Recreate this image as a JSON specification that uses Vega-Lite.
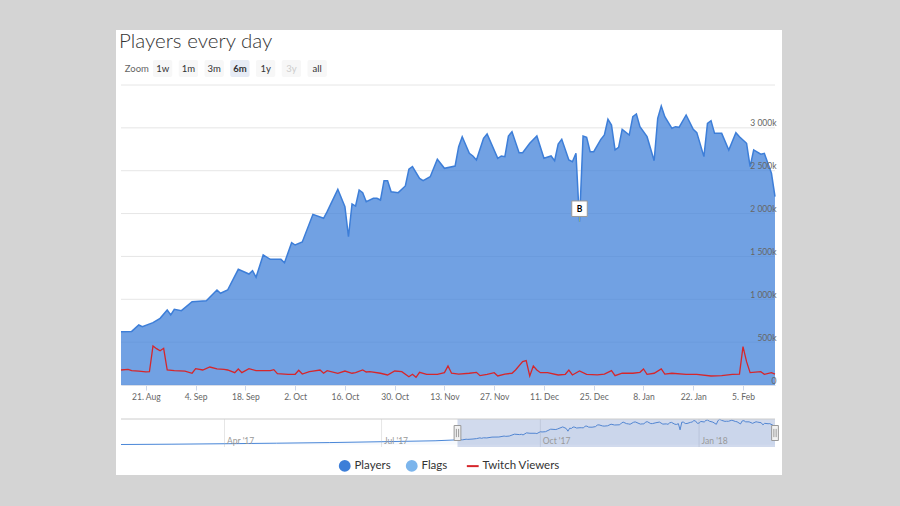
{
  "$schema": "https://vega.github.io/schema/vega-lite/v6.json",
  "width": 666,
  "height": 445,
  "autosize": {"type": "none"},
  "padding": {"left": 116, "top": 30, "right": 118, "bottom": 31},
  "background": "#d4d4d4",
  "title": {
    "text": "Players every day",
    "anchor": "start",
    "offset": -22,
    "dx": 3,
    "font": "Lato",
    "fontSize": 20.5,
    "fontWeight": 300,
    "color": "#333333"
  },
  "datasets": {
    "buttons": [
      {"label": "Zoom", "state": "label"},
      {"label": "1w", "state": "normal"},
      {"label": "1m", "state": "normal"},
      {"label": "3m", "state": "normal"},
      {"label": "6m", "state": "selected"},
      {"label": "1y", "state": "normal"},
      {"label": "3y", "state": "disabled"},
      {"label": "all", "state": "normal"}
    ],
    "players": [
      {"date": "2017-01-31", "value": 20000},
      {"date": "2017-03-01", "value": 60000},
      {"date": "2017-04-01", "value": 120000},
      {"date": "2017-05-01", "value": 190000},
      {"date": "2017-06-01", "value": 270000},
      {"date": "2017-07-01", "value": 380000},
      {"date": "2017-08-01", "value": 500000},
      {"date": "2017-08-14", "value": 620000},
      {"date": "2017-08-17", "value": 625000},
      {"date": "2017-08-19", "value": 700000},
      {"date": "2017-08-20", "value": 680000},
      {"date": "2017-08-23", "value": 727000},
      {"date": "2017-08-25", "value": 778000},
      {"date": "2017-08-27", "value": 875000},
      {"date": "2017-08-28", "value": 817000},
      {"date": "2017-08-29", "value": 883000},
      {"date": "2017-08-31", "value": 867000},
      {"date": "2017-09-03", "value": 972000},
      {"date": "2017-09-07", "value": 984000},
      {"date": "2017-09-10", "value": 1108000},
      {"date": "2017-09-11", "value": 1070000},
      {"date": "2017-09-13", "value": 1108000},
      {"date": "2017-09-16", "value": 1350000},
      {"date": "2017-09-19", "value": 1295000},
      {"date": "2017-09-20", "value": 1334000},
      {"date": "2017-09-21", "value": 1256000},
      {"date": "2017-09-23", "value": 1517000},
      {"date": "2017-09-25", "value": 1466000},
      {"date": "2017-09-28", "value": 1466000},
      {"date": "2017-09-29", "value": 1427000},
      {"date": "2017-10-01", "value": 1660000},
      {"date": "2017-10-02", "value": 1633000},
      {"date": "2017-10-04", "value": 1668000},
      {"date": "2017-10-07", "value": 1991000},
      {"date": "2017-10-10", "value": 1945000},
      {"date": "2017-10-11", "value": 2022000},
      {"date": "2017-10-14", "value": 2283000},
      {"date": "2017-10-16", "value": 2080000},
      {"date": "2017-10-17", "value": 1730000},
      {"date": "2017-10-18", "value": 2112000},
      {"date": "2017-10-19", "value": 2088000},
      {"date": "2017-10-20", "value": 2275000},
      {"date": "2017-10-21", "value": 2244000},
      {"date": "2017-10-22", "value": 2139000},
      {"date": "2017-10-24", "value": 2178000},
      {"date": "2017-10-25", "value": 2178000},
      {"date": "2017-10-26", "value": 2158000},
      {"date": "2017-10-27", "value": 2384000},
      {"date": "2017-10-28", "value": 2384000},
      {"date": "2017-10-29", "value": 2255000},
      {"date": "2017-10-31", "value": 2244000},
      {"date": "2017-11-02", "value": 2322000},
      {"date": "2017-11-03", "value": 2517000},
      {"date": "2017-11-04", "value": 2547000},
      {"date": "2017-11-06", "value": 2411000},
      {"date": "2017-11-07", "value": 2384000},
      {"date": "2017-11-09", "value": 2430000},
      {"date": "2017-11-11", "value": 2633000},
      {"date": "2017-11-13", "value": 2528000},
      {"date": "2017-11-16", "value": 2555000},
      {"date": "2017-11-17", "value": 2780000},
      {"date": "2017-11-18", "value": 2897000},
      {"date": "2017-11-20", "value": 2703000},
      {"date": "2017-11-21", "value": 2672000},
      {"date": "2017-11-22", "value": 2625000},
      {"date": "2017-11-24", "value": 2878000},
      {"date": "2017-11-25", "value": 2928000},
      {"date": "2017-11-28", "value": 2645000},
      {"date": "2017-11-29", "value": 2672000},
      {"date": "2017-11-30", "value": 2664000},
      {"date": "2017-12-01", "value": 2905000},
      {"date": "2017-12-02", "value": 2955000},
      {"date": "2017-12-04", "value": 2710000},
      {"date": "2017-12-05", "value": 2710000},
      {"date": "2017-12-07", "value": 2820000},
      {"date": "2017-12-09", "value": 2905000},
      {"date": "2017-12-11", "value": 2645000},
      {"date": "2017-12-13", "value": 2672000},
      {"date": "2017-12-14", "value": 2617000},
      {"date": "2017-12-15", "value": 2812000},
      {"date": "2017-12-16", "value": 2866000},
      {"date": "2017-12-18", "value": 2625000},
      {"date": "2017-12-19", "value": 2605000},
      {"date": "2017-12-20", "value": 2703000},
      {"date": "2017-12-21", "value": 1905000},
      {"date": "2017-12-22", "value": 2905000},
      {"date": "2017-12-23", "value": 2890000},
      {"date": "2017-12-24", "value": 2722000},
      {"date": "2017-12-25", "value": 2722000},
      {"date": "2017-12-27", "value": 2866000},
      {"date": "2017-12-28", "value": 2917000},
      {"date": "2017-12-29", "value": 3100000},
      {"date": "2017-12-30", "value": 3033000},
      {"date": "2017-12-31", "value": 2742000},
      {"date": "2018-01-01", "value": 2773000},
      {"date": "2018-01-02", "value": 2983000},
      {"date": "2018-01-04", "value": 2917000},
      {"date": "2018-01-05", "value": 3130000},
      {"date": "2018-01-06", "value": 3162000},
      {"date": "2018-01-07", "value": 3014000},
      {"date": "2018-01-09", "value": 2897000},
      {"date": "2018-01-11", "value": 2617000},
      {"date": "2018-01-12", "value": 3111000},
      {"date": "2018-01-13", "value": 3255000},
      {"date": "2018-01-14", "value": 3130000},
      {"date": "2018-01-16", "value": 2995000},
      {"date": "2018-01-17", "value": 3014000},
      {"date": "2018-01-18", "value": 3006000},
      {"date": "2018-01-20", "value": 3150000},
      {"date": "2018-01-22", "value": 2983000},
      {"date": "2018-01-23", "value": 2944000},
      {"date": "2018-01-25", "value": 2664000},
      {"date": "2018-01-26", "value": 3053000},
      {"date": "2018-01-27", "value": 3084000},
      {"date": "2018-01-28", "value": 2936000},
      {"date": "2018-01-30", "value": 2936000},
      {"date": "2018-02-01", "value": 2742000},
      {"date": "2018-02-03", "value": 2944000},
      {"date": "2018-02-04", "value": 2897000},
      {"date": "2018-02-06", "value": 2820000},
      {"date": "2018-02-07", "value": 2547000},
      {"date": "2018-02-08", "value": 2742000},
      {"date": "2018-02-10", "value": 2692000},
      {"date": "2018-02-11", "value": 2703000},
      {"date": "2018-02-13", "value": 2470000},
      {"date": "2018-02-14", "value": 2197000}
    ],
    "twitch": [
      {"date": "2017-08-14", "value": 175000},
      {"date": "2017-08-16", "value": 183000},
      {"date": "2017-08-17", "value": 167000},
      {"date": "2017-08-19", "value": 163000},
      {"date": "2017-08-21", "value": 152000},
      {"date": "2017-08-22", "value": 155000},
      {"date": "2017-08-23", "value": 455000},
      {"date": "2017-08-24", "value": 424000},
      {"date": "2017-08-25", "value": 400000},
      {"date": "2017-08-26", "value": 428000},
      {"date": "2017-08-27", "value": 175000},
      {"date": "2017-08-29", "value": 167000},
      {"date": "2017-09-01", "value": 163000},
      {"date": "2017-09-03", "value": 137000},
      {"date": "2017-09-04", "value": 190000},
      {"date": "2017-09-06", "value": 175000},
      {"date": "2017-09-08", "value": 210000},
      {"date": "2017-09-10", "value": 187000},
      {"date": "2017-09-12", "value": 183000},
      {"date": "2017-09-13", "value": 175000},
      {"date": "2017-09-15", "value": 144000},
      {"date": "2017-09-16", "value": 187000},
      {"date": "2017-09-17", "value": 144000},
      {"date": "2017-09-19", "value": 190000},
      {"date": "2017-09-21", "value": 167000},
      {"date": "2017-09-25", "value": 167000},
      {"date": "2017-09-26", "value": 179000},
      {"date": "2017-09-27", "value": 132000},
      {"date": "2017-09-30", "value": 125000},
      {"date": "2017-10-02", "value": 125000},
      {"date": "2017-10-03", "value": 172000},
      {"date": "2017-10-04", "value": 128000},
      {"date": "2017-10-06", "value": 155000},
      {"date": "2017-10-07", "value": 163000},
      {"date": "2017-10-09", "value": 175000},
      {"date": "2017-10-10", "value": 137000},
      {"date": "2017-10-11", "value": 167000},
      {"date": "2017-10-14", "value": 137000},
      {"date": "2017-10-16", "value": 163000},
      {"date": "2017-10-18", "value": 137000},
      {"date": "2017-10-19", "value": 144000},
      {"date": "2017-10-21", "value": 175000},
      {"date": "2017-10-22", "value": 152000},
      {"date": "2017-10-23", "value": 155000},
      {"date": "2017-10-26", "value": 137000},
      {"date": "2017-10-28", "value": 117000},
      {"date": "2017-10-30", "value": 163000},
      {"date": "2017-11-01", "value": 155000},
      {"date": "2017-11-03", "value": 97000},
      {"date": "2017-11-04", "value": 125000},
      {"date": "2017-11-05", "value": 90000},
      {"date": "2017-11-06", "value": 148000},
      {"date": "2017-11-08", "value": 125000},
      {"date": "2017-11-11", "value": 125000},
      {"date": "2017-11-13", "value": 144000},
      {"date": "2017-11-14", "value": 222000},
      {"date": "2017-11-15", "value": 137000},
      {"date": "2017-11-17", "value": 128000},
      {"date": "2017-11-20", "value": 137000},
      {"date": "2017-11-22", "value": 148000},
      {"date": "2017-11-23", "value": 109000},
      {"date": "2017-11-25", "value": 125000},
      {"date": "2017-11-27", "value": 144000},
      {"date": "2017-11-28", "value": 105000},
      {"date": "2017-11-30", "value": 128000},
      {"date": "2017-12-02", "value": 137000},
      {"date": "2017-12-03", "value": 175000},
      {"date": "2017-12-05", "value": 272000},
      {"date": "2017-12-06", "value": 284000},
      {"date": "2017-12-07", "value": 105000},
      {"date": "2017-12-08", "value": 222000},
      {"date": "2017-12-09", "value": 175000},
      {"date": "2017-12-10", "value": 144000},
      {"date": "2017-12-12", "value": 144000},
      {"date": "2017-12-15", "value": 117000},
      {"date": "2017-12-17", "value": 125000},
      {"date": "2017-12-18", "value": 175000},
      {"date": "2017-12-19", "value": 117000},
      {"date": "2017-12-21", "value": 163000},
      {"date": "2017-12-23", "value": 125000},
      {"date": "2017-12-26", "value": 117000},
      {"date": "2017-12-28", "value": 128000},
      {"date": "2017-12-30", "value": 167000},
      {"date": "2017-12-31", "value": 109000},
      {"date": "2018-01-02", "value": 137000},
      {"date": "2018-01-05", "value": 137000},
      {"date": "2018-01-07", "value": 148000},
      {"date": "2018-01-08", "value": 187000},
      {"date": "2018-01-09", "value": 125000},
      {"date": "2018-01-11", "value": 137000},
      {"date": "2018-01-13", "value": 187000},
      {"date": "2018-01-14", "value": 128000},
      {"date": "2018-01-16", "value": 137000},
      {"date": "2018-01-20", "value": 125000},
      {"date": "2018-01-23", "value": 125000},
      {"date": "2018-01-27", "value": 105000},
      {"date": "2018-01-30", "value": 109000},
      {"date": "2018-02-02", "value": 125000},
      {"date": "2018-02-04", "value": 128000},
      {"date": "2018-02-05", "value": 447000},
      {"date": "2018-02-06", "value": 272000},
      {"date": "2018-02-07", "value": 144000},
      {"date": "2018-02-10", "value": 155000},
      {"date": "2018-02-11", "value": 125000},
      {"date": "2018-02-13", "value": 144000},
      {"date": "2018-02-14", "value": 128000}
    ],
    "flags": [{"date": "2017-12-21", "value": 1905000, "title": "B"}]
  },
  "layer": [
    {
      "data": {"name": "buttons"},
      "encoding": {
        "x": {
          "field": "label",
          "type": "nominal",
          "sort": null,
          "axis": null,
          "scale": {
            "domain": ["Zoom", "1w", "1m", "3m", "6m", "1y", "3y", "all"],
            "range": [8, 214],
            "paddingInner": 0.25,
            "paddingOuter": 0.125
          }
        },
        "y": {
          "datum": "buttons",
          "type": "nominal",
          "axis": null,
          "scale": {"domain": ["buttons"], "range": [30, 47], "paddingInner": 0, "paddingOuter": 0}
        }
      },
      "layer": [
        {
          "transform": [{"filter": "datum.state !== 'label'"}],
          "mark": {"type": "rect", "cornerRadius": 2},
          "encoding": {
            "color": {"condition": {"test": "datum.state === 'selected'", "value": "#e6ebf5"}, "value": "#f7f7f7"}
          }
        },
        {
          "transform": [{"filter": "datum.state !== 'selected'"}],
          "mark": {"type": "text", "font": "Lato", "fontSize": 9.5},
          "encoding": {
            "text": {"field": "label"},
            "color": {
              "condition": [
                {"test": "datum.state === 'disabled'", "value": "#cccccc"},
                {"test": "datum.state === 'label'", "value": "#666666"}
              ],
              "value": "#333333"
            }
          }
        },
        {
          "transform": [{"filter": "datum.state === 'selected'"}],
          "mark": {"type": "text", "font": "Lato", "fontSize": 9.5, "fontWeight": "bold", "color": "#333333"},
          "encoding": {"text": {"field": "label"}}
        }
      ]
    },
    {
      "data": {"name": "players"},
      "encoding": {
        "y": {
          "field": "value",
          "type": "quantitative",
          "scale": {"domain": [0, 3500000], "range": [355, 55], "nice": false, "zero": false},
          "axis": {
            "orient": "right",
            "offset": -6,
            "title": null,
            "grid": false,
            "ticks": false,
            "domain": false,
            "values": [0, 500000, 1000000, 1500000, 2000000, 2500000, 3000000],
            "labelExpr": "datum.value === 0 ? '0' : replace(format(datum.value / 1000, ','), ',', ' ') + 'k'",
            "labelAlign": "right",
            "labelBaseline": "bottom",
            "labelPadding": 0,
            "labelOffset": 0,
            "labelFlush": false,
            "labelOverlap": false,
            "labelFont": "Lato",
            "labelFontSize": 8.5,
            "labelColor": "#666666",
            "zindex": 1
          }
        }
      },
      "layer": [
        {
          "data": {"values": [
            {"value": 0}, {"value": 500000}, {"value": 1000000}, {"value": 1500000},
            {"value": 2000000}, {"value": 2500000}, {"value": 3000000}, {"value": 3500000}
          ]},
          "mark": {"type": "rule", "color": "#e6e6e6", "strokeWidth": 1},
          "encoding": {
            "x": {
              "datum": {"year": 2017, "month": 8, "date": 14, "utc": true},
              "type": "temporal",
              "scale": {
                "type": "utc",
                "domain": [
                  {"year": 2017, "month": 8, "date": 14, "utc": true},
                  {"year": 2018, "month": 2, "date": 14, "utc": true}
                ],
                "range": [5, 659],
                "nice": false
              }
            },
            "x2": {"datum": {"year": 2018, "month": 2, "date": 14, "utc": true}}
          }
        },
        {
          "transform": [{"filter": "datum.date >= utc(2017, 7, 14)"}],
          "mark": {"type": "area", "fillOpacity": 0.73, "line": {"color": "#3d7ed8", "strokeWidth": 1.5}},
          "encoding": {
            "x": {
              "field": "date",
              "type": "temporal",
              "scale": {
                "type": "utc",
                "domain": [
                  {"year": 2017, "month": 8, "date": 14, "utc": true},
                  {"year": 2018, "month": 2, "date": 14, "utc": true}
                ],
                "range": [5, 659],
                "nice": false
              },
              "axis": {
                "orient": "bottom",
                "offset": -90,
                "title": null,
                "grid": false,
                "values": [
                  {"year": 2017, "month": 8, "date": 21, "utc": true},
                  {"year": 2017, "month": 9, "date": 4, "utc": true},
                  {"year": 2017, "month": 9, "date": 18, "utc": true},
                  {"year": 2017, "month": 10, "date": 2, "utc": true},
                  {"year": 2017, "month": 10, "date": 16, "utc": true},
                  {"year": 2017, "month": 10, "date": 30, "utc": true},
                  {"year": 2017, "month": 11, "date": 13, "utc": true},
                  {"year": 2017, "month": 11, "date": 27, "utc": true},
                  {"year": 2017, "month": 12, "date": 11, "utc": true},
                  {"year": 2017, "month": 12, "date": 25, "utc": true},
                  {"year": 2018, "month": 1, "date": 8, "utc": true},
                  {"year": 2018, "month": 1, "date": 22, "utc": true},
                  {"year": 2018, "month": 2, "date": 5, "utc": true}
                ],
                "format": "%-d. %b",
                "labelFont": "Lato",
                "labelFontSize": 8.5,
                "labelColor": "#666666",
                "labelPadding": 2,
                "labelFlush": false,
                "labelOverlap": false,
                "domainColor": "#ccd6eb",
                "tickColor": "#ccd6eb",
                "tickSize": 5
              }
            },
            "color": {
              "datum": "Players",
              "type": "nominal",
              "scale": {
                "domain": ["Players", "Flags", "Twitch Viewers"],
                "range": ["#3d7ed8", "#7cb5ec", "#d6262b"]
              },
              "legend": {
                "title": null,
                "orient": "bottom",
                "offset": -15,
                "direction": "horizontal",
                "labelFont": "Lato",
                "labelFontSize": 11.5,
                "labelColor": "#333333",
                "symbolSize": 140,
                "symbolType": "circle",
                "labelOffset": 4,
                "columnPadding": 14,
                "encode": {
                  "symbols": {
                    "update": {
                      "shape": {"signal": "datum.value === 'Twitch Viewers' ? 'stroke' : 'circle'"},
                      "stroke": {"scale": "color", "field": "value"},
                      "strokeWidth": {"signal": "datum.value === 'Twitch Viewers' ? 2 : 0"},
                      "fillOpacity": {"value": 1},
                      "opacity": {"value": 1}
                    }
                  }
                }
              }
            }
          }
        },
        {
          "data": {"name": "twitch"},
          "mark": {"type": "line", "strokeWidth": 1.3},
          "encoding": {
            "x": {"field": "date", "type": "temporal"},
            "color": {"datum": "Twitch Viewers", "type": "nominal"}
          }
        },
        {
          "data": {"name": "flags"},
          "mark": {"type": "rule", "color": "#88aa88", "strokeWidth": 1, "y2Offset": -6},
          "encoding": {
            "x": {"field": "date", "type": "temporal"},
            "y2": {"field": "value"}
          }
        },
        {
          "data": {"name": "flags"},
          "mark": {"type": "point", "shape": "square", "size": 240, "filled": true, "fill": "white", "stroke": "#999999", "strokeWidth": 1, "opacity": 1},
          "encoding": {
            "x": {"field": "date", "type": "temporal"},
            "yOffset": {"value": -13}
          }
        },
        {
          "data": {"name": "flags"},
          "mark": {"type": "text", "font": "Lato", "fontSize": 8.5, "fontWeight": "bold", "color": "#000000"},
          "encoding": {
            "x": {"field": "date", "type": "temporal"},
            "text": {"field": "title"},
            "yOffset": {"value": -13}
          }
        }
      ]
    },
    {
      "data": {"name": "players"},
      "encoding": {
        "x": {
          "field": "date",
          "type": "temporal",
          "scale": {
            "type": "utc",
            "domain": [
              {"year": 2017, "month": 1, "date": 31, "utc": true},
              {"year": 2018, "month": 2, "date": 14, "utc": true}
            ],
            "range": [5, 659],
            "nice": false
          },
          "axis": {
            "orient": "bottom",
            "offset": -28,
            "title": null,
            "grid": false,
            "ticks": false,
            "domain": false,
            "values": [
              {"year": 2017, "month": 4, "date": 1, "utc": true},
              {"year": 2017, "month": 7, "date": 1, "utc": true},
              {"year": 2017, "month": 10, "date": 1, "utc": true},
              {"year": 2018, "month": 1, "date": 1, "utc": true}
            ],
            "format": "%b '%y",
            "labelAlign": "left",
            "labelBaseline": "bottom",
            "labelPadding": -2,
            "labelOffset": 2,
            "labelFlush": false,
            "labelOverlap": false,
            "labelFont": "Lato",
            "labelFontSize": 8.5,
            "labelColor": "#999999",
            "zindex": 1
          }
        }
      },
      "layer": [
        {
          "data": {"values": [
            {"date": "2017-04-01"}, {"date": "2017-07-01"}, {"date": "2017-10-01"}, {"date": "2018-01-01"}
          ]},
          "mark": {"type": "rule", "color": "#e6e6e6", "strokeWidth": 1},
          "encoding": {
            "y": {
              "datum": -300000,
              "type": "quantitative",
              "axis": null,
              "scale": {"domain": [-300000, 3300000], "range": [417, 389], "nice": false, "zero": false}
            },
            "y2": {"datum": 3300000}
          }
        },
        {
          "mark": {"type": "area", "color": "#4a87d8", "fillOpacity": 0.05, "line": {"color": "#4a87d8", "strokeWidth": 1}},
          "encoding": {
            "y": {
              "field": "value",
              "type": "quantitative",
              "axis": null,
              "scale": {"domain": [-300000, 3300000], "range": [417, 389], "nice": false, "zero": false}
            }
          }
        },
        {
          "data": {"values": [{"start": "2017-08-14", "end": "2018-02-14"}]},
          "mark": {"type": "rect", "color": "#6685c2", "opacity": 0.3},
          "encoding": {
            "x": {"field": "start", "type": "temporal"},
            "x2": {"field": "end"},
            "y": {
              "datum": -300000,
              "type": "quantitative",
              "axis": null,
              "scale": {"domain": [-300000, 3300000], "range": [417, 389], "nice": false, "zero": false}
            },
            "y2": {"datum": 3300000}
          }
        },
        {
          "data": {"values": [{"start": "2017-01-31", "end": "2018-02-14"}]},
          "mark": {"type": "rule", "color": "#cccccc", "strokeWidth": 1},
          "encoding": {
            "x": {"field": "start", "type": "temporal"},
            "x2": {"field": "end"},
            "y": {
              "datum": 3300000,
              "type": "quantitative",
              "axis": null,
              "scale": {"domain": [-300000, 3300000], "range": [417, 389], "nice": false, "zero": false}
            }
          }
        },
        {
          "data": {"values": [{"date": "2017-08-14"}, {"date": "2018-02-14"}]},
          "mark": {
            "type": "point",
            "shape": "M-0.45,-1V1H0.45V-1Z M-0.15,-0.55V0.55 M0.15,-0.55V0.55",
            "size": 225,
            "filled": true,
            "fill": "#f2f2f2",
            "stroke": "#999999",
            "strokeWidth": 1,
            "opacity": 1
          },
          "encoding": {
            "y": {
              "datum": 1500000,
              "type": "quantitative",
              "axis": null,
              "scale": {"domain": [-300000, 3300000], "range": [417, 389], "nice": false, "zero": false}
            }
          }
        }
      ]
    }
  ],
  "resolve": {"scale": {"x": "independent", "y": "independent"}},
  "config": {
    "view": {"fill": "white", "stroke": null},
    "font": "Lato",
    "legend": {"layout": {"bottom": {"anchor": "middle"}}}
  }
}
